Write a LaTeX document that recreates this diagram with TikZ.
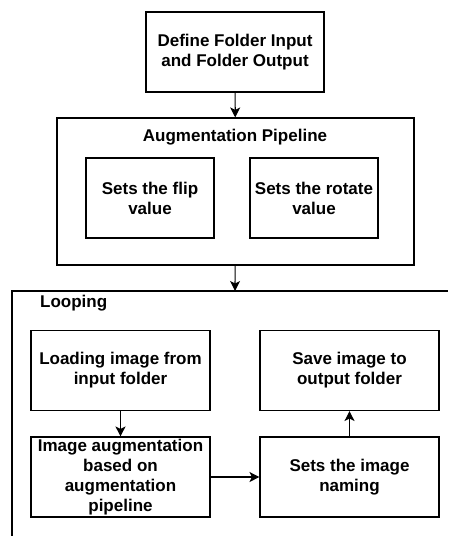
\documentclass[tikz,border=0pt]{standalone}
\usepackage{fontspec}
\setmainfont{Liberation Sans}
\usepackage{tikz}
\usetikzlibrary{arrows.meta}

\begin{document}
\begin{tikzpicture}[x=1pt,y=-1pt,
    box/.style={draw,line width=1.1pt,align=center,inner sep=0pt,
        font=\fontsize{17}{20}\selectfont\bfseries},
    title/.style={font=\fontsize{17}{20}\selectfont\bfseries,inner sep=0pt},
    flow/.style={line width=1.1pt,-{Stealth[length=10pt,width=10pt,inset=2.5pt]}}]
\useasboundingbox (0,0) rectangle (448,536);
% Input and output folders
\node[box,minimum width=178pt,minimum height=80pt] (defineio) at (235,52)
    {Define Folder Input\\and Folder Output};

% Augmentation pipeline with its two settings
\node[box,minimum width=357pt,minimum height=147pt] (pipeline) at (235.5,191.5) {};
\node[title] (pipetitle) at (235,137) {Augmentation Pipeline};
\node[box,minimum width=128pt,minimum height=80pt] (flip) at (150,198)
    {Sets the flip\\value};
\node[box,minimum width=128pt,minimum height=80pt] (rotate) at (314,198)
    {Sets the rotate\\value};

% Looping frame runs past the page edges
\coordinate (loopleft) at (12,536);
\coordinate (loopcorner) at (12,291);
\coordinate (loopright) at (448,291);
\draw[line width=1.1pt] (loopleft) -- (loopcorner) -- (loopright);
\coordinate (looptop) at (235,291);
\node[title,anchor=west] (looptitle) at (40,303) {Looping};

% Steps inside the loop
\node[box,minimum width=179pt,minimum height=80pt] (loadimg) at (120.5,370.5)
    {Loading image from\\input folder};
\node[box,minimum width=179pt,minimum height=80pt] (augimg) at (120.5,477)
    {Image augmentation\\based on\\augmentation\\pipeline};
\node[box,minimum width=179pt,minimum height=80pt] (naming) at (349.5,477)
    {Sets the image\\naming};
\node[box,minimum width=179pt,minimum height=80pt] (saveimg) at (349.5,370.5)
    {Save image to\\output folder};

% Connectors
\draw[flow] (defineio) -- (pipeline);
\draw[flow] (pipeline) -- (looptop);
\draw[flow] (loadimg) -- (augimg);
\draw[flow] (augimg) -- (naming);
\draw[flow] (naming) -- (saveimg);
\end{tikzpicture}
\end{document}
